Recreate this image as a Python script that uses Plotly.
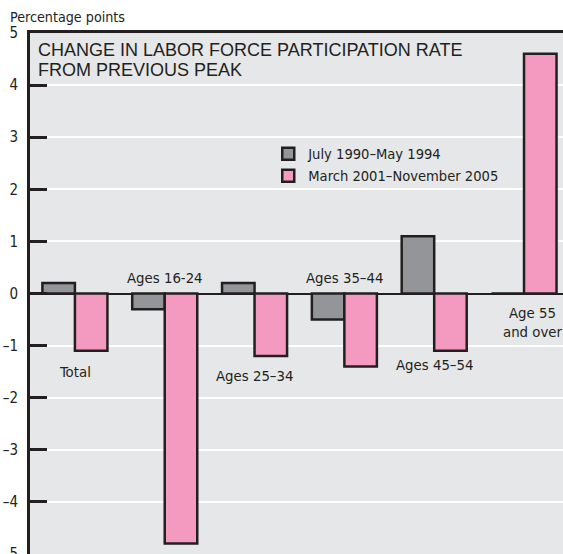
import plotly.graph_objects as go

# Age groups and the change in participation rate (percentage points)
categories = ["Total", "Ages 16-24", "Ages 25–34", "Ages 35–44", "Ages 45–54", "Age 55 and over"]
period_1990 = [0.2, -0.3, 0.2, -0.5, 1.1, 0.0]
period_2001 = [-1.1, -4.8, -1.2, -1.4, -1.1, 4.6]
series_names = ["July 1990–May 1994", "March 2001–November 2005"]

# Category label text and where each label sits (x index, y value)
label_text = ["Total", "Ages 16-24", "Ages 25–34", "Ages 35–44", "Ages 45–54", "Age 55<br>and over"]
label_x = [0, 1, 2, 3, 4, 5.09]
label_y = [-1.5, 0.31, -1.58, 0.31, -1.36, -0.55]

# Y axis ticks
y_ticks = [5, 4, 3, 2, 1, 0, -1, -2, -3, -4, -5]
y_tick_text = ["5", "4", "3", "2", "1", "0", "–1", "–2", "–3", "–4", "–5"]

DARK = "#231f20"
GRAY = "#939598"
PINK = "#f49ac1"
BG = "#e6e7e8"
NARROW = "DejaVu Sans Condensed, Liberation Sans Narrow, Arial Narrow, sans-serif"
REGULAR = "Liberation Sans, Arial, Helvetica, sans-serif"

fig = go.Figure()
fig.add_bar(x=categories, y=period_1990, name=series_names[0],
            marker=dict(color=GRAY, line=dict(color=DARK, width=2.5)))
fig.add_bar(x=categories, y=period_2001, name=series_names[1],
            marker=dict(color=PINK, line=dict(color=DARK, width=2.5)))

annotations = []
for txt, lx, ly in zip(label_text, label_x, label_y):
    annotations.append(dict(x=lx, y=ly, xref="x", yref="y", text=txt, showarrow=False,
                            font=dict(family=NARROW, size=14.8, color=DARK),
                            xanchor="center", yanchor="middle"))

annotations += [
    dict(x=0.0115, y=0.967, xref="paper", yref="paper", xanchor="left", yanchor="middle",
         text="CHANGE IN LABOR FORCE PARTICIPATION RATE", showarrow=False,
         font=dict(family=REGULAR, size=18, color=DARK)),
    dict(x=0.0115, y=0.929, xref="paper", yref="paper", xanchor="left", yanchor="middle",
         text="FROM PREVIOUS PEAK", showarrow=False,
         font=dict(family=REGULAR, size=18, color=DARK)),
    dict(x=-0.041, y=1.03, xref="paper", yref="paper", xanchor="left", yanchor="middle",
         text="Percentage points", showarrow=False,
         font=dict(family=NARROW, size=14.2, color=DARK)),
]

fig.update_layout(
    width=563, height=554,
    margin=dict(l=30, r=0, t=33, b=0, pad=0, autoexpand=False),
    paper_bgcolor="white", plot_bgcolor=BG,
    barmode="group", bargap=0.276, bargroupgap=0,
    showlegend=True,
    legend=dict(x=0.447, y=0.799, xanchor="left", yanchor="top",
                bgcolor="rgba(0,0,0,0)", traceorder="normal",
                font=dict(family=NARROW, size=14.6, color=DARK)),
    annotations=annotations,
    xaxis=dict(range=[-0.5, 5.434], showticklabels=False, showgrid=False, zeroline=False,
               ticks="", side="top", showline=True, linecolor=DARK, linewidth=3,
               automargin=False),
    yaxis=dict(range=[-5, 5], tickvals=y_ticks, ticktext=y_tick_text,
               ticks="inside", ticklen=17, tickwidth=2.5, tickcolor=DARK,
               showline=True, linecolor=DARK, linewidth=3,
               showgrid=True, gridcolor="white", gridwidth=2,
               zeroline=True, zerolinecolor=DARK, zerolinewidth=2,
               tickfont=dict(family=NARROW, size=15, color=DARK),
               ticklabelstandoff=6, ticklabeloverflow="allow", automargin=False),
)

fig.write_html("out.html")
